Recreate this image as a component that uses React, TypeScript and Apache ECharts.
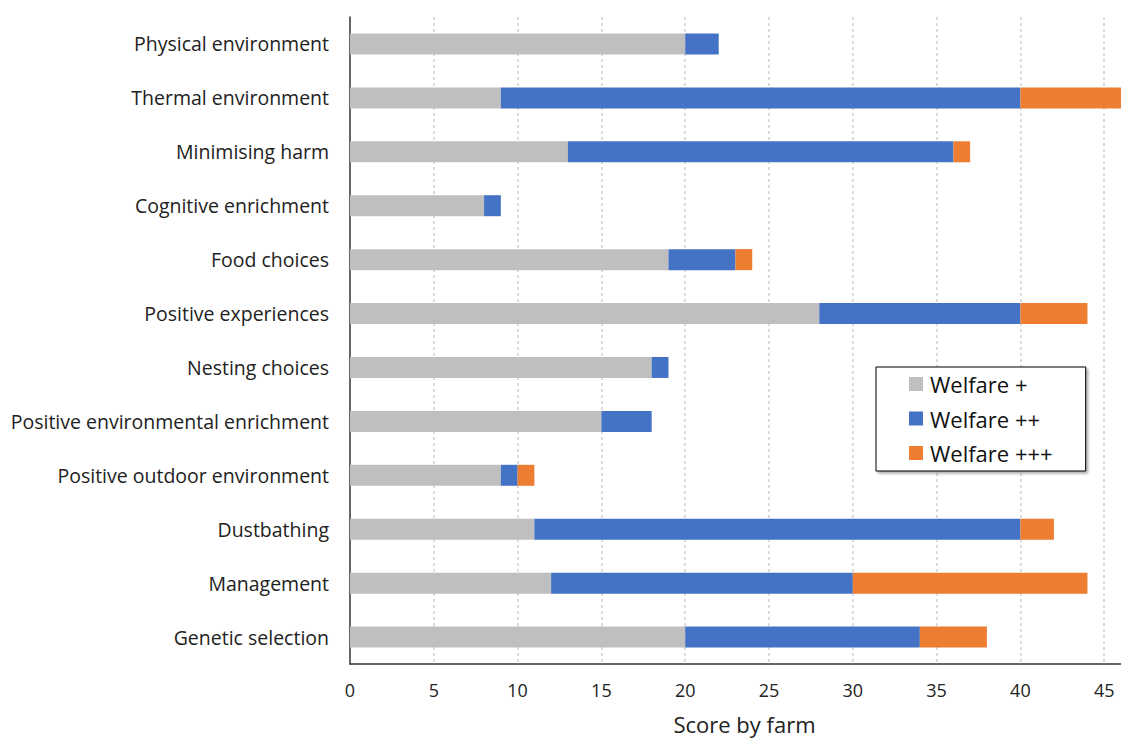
import React, { useEffect, useRef } from "react";
import * as echarts from "echarts";

const categories = [
  "Physical environment",
  "Thermal environment",
  "Minimising harm",
  "Cognitive enrichment",
  "Food choices",
  "Positive experiences",
  "Nesting choices",
  "Positive environmental enrichment",
  "Positive outdoor environment",
  "Dustbathing",
  "Management",
  "Genetic selection",
];
const welfare1 = [20, 9, 13, 8, 19, 28, 18, 15, 9, 11, 12, 20];
const welfare2 = [2, 31, 23, 1, 4, 12, 1, 3, 1, 29, 18, 14];
const welfare3 = [0, 6, 1, 0, 1, 4, 0, 0, 1, 2, 14, 4];
const seriesNames = ["Welfare +", "Welfare ++", "Welfare +++"];
const colors = ["#BFBFBF", "#4472C4", "#ED7D31"];

const FONT = "Open Sans";

export default function App() {
  const ref = useRef<HTMLDivElement>(null);
  useEffect(() => {
    if (!ref.current) return;
    const chart = echarts.init(ref.current, undefined, { renderer: "svg" });
    const data = [welfare1, welfare2, welfare3];
    chart.setOption({
      animation: false,
      backgroundColor: "#ffffff",
      textStyle: { fontFamily: FONT },
      grid: { left: 350, top: 17, right: 3, bottom: 75, containLabel: false },
      legend: {
        orient: "vertical",
        left: 876,
        top: 367,
        padding: [6, 33, 7, 33],
        itemWidth: 14,
        itemHeight: 14,
        itemGap: 12.5,
        borderColor: "#000",
        borderWidth: 1,
        backgroundColor: "#fff",
        shadowColor: "rgba(0,0,0,0.35)",
        shadowBlur: 3,
        shadowOffsetX: 2,
        shadowOffsetY: 2,
        icon: "rect",
        textStyle: { fontFamily: FONT, fontSize: 22, lineHeight: 22, color: "#111", padding: [0, 0, 0, 2] },
        data: seriesNames,
      },
      xAxis: {
        type: "value",
        min: 0,
        max: 46.3,
        interval: 5,
        name: "Score by farm",
        nameLocation: "middle",
        nameGap: 49,
        nameTextStyle: { fontFamily: FONT, fontSize: 22, color: "#222", padding: [0, 0, 0, 13] },
        axisLine: { show: true, lineStyle: { color: "#333", width: 1.5 } },
        axisTick: { show: false },
        axisLabel: {
          fontFamily: FONT,
          fontSize: 18,
          color: "#222",
          margin: 17,
          showMaxLabel: false,
          formatter: (v: number) => (v % 5 === 0 ? String(v) : ""),
        },
        splitLine: {
          show: true,
          showMinLine: false,
          showMaxLine: false,
          lineStyle: { color: "#D0D0D0", type: [3, 3], width: 1.5 },
        },
      },
      yAxis: {
        type: "category",
        inverse: true,
        data: categories,
        axisLine: { show: true, lineStyle: { color: "#333", width: 1.5 } },
        axisTick: { show: false },
        axisLabel: { fontFamily: FONT, fontSize: 19.5, color: "#222", margin: 21 },
      },
      series: seriesNames.map((name, i) => ({
        name,
        type: "bar",
        stack: "total",
        barWidth: 21,
        itemStyle: { color: colors[i] },
        data: data[i],
      })),
    });
    return () => chart.dispose();
  }, []);
  return <div ref={ref} style={{ width: 1129, height: 740, marginLeft: -8, marginTop: -8 }} />;
}
